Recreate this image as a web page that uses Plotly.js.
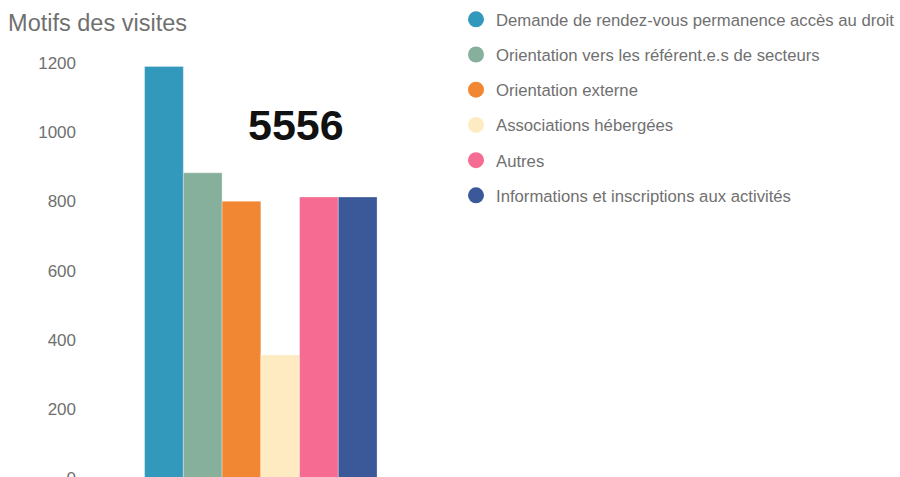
<!DOCTYPE html>
<html>
<head>
<meta charset="utf-8">
<script src="https://cdn.plot.ly/plotly-3.0.1.min.js"></script>
<style>
  html, body { margin: 0; padding: 0; overflow: hidden; background: #fff; }
  #motifs { width: 900px; height: 500px; }
</style>
</head>
<body>
<div id="motifs"></div>
<script>
var motifs = [
  "Demande de rendez-vous permanence accès au droit",
  "Orientation vers les référent.e.s de secteurs",
  "Orientation externe",
  "Associations hébergées",
  "Autres",
  "Informations et inscriptions aux activités"
];
var visites = [1191, 883, 801, 356, 813, 813];
var couleurs = ["#3399bc", "#86b09b", "#f28733", "#ffebc2", "#f56b91", "#3b5998"];
var total = "5556";
var yTicks = [0, 200, 400, 600, 800, 1000, 1200];

function graficar() {
  var data = [];
  // one bar per motif, all on the same category
  for (var i = 0; i < motifs.length; i++) {
    data.push({
      x: ["visites"],
      y: [visites[i]],
      name: motifs[i],
      type: 'bar',
      showlegend: false,
      hoverinfo: 'y+name',
      marker: { color: couleurs[i], line: { color: 'rgba(255,255,255,0.3)', width: 1 } }
    });
  }
  // round legend markers
  for (var j = 0; j < motifs.length; j++) {
    data.push({
      x: [null],
      y: [null],
      name: motifs[j],
      type: 'scatter',
      mode: 'markers',
      legendgroup: 'g' + j,
      marker: { color: couleurs[j], size: 16, symbol: 'circle' },
      hoverinfo: 'skip'
    });
  }

  var layout = {
    width: 900,
    height: 500,
    margin: { l: 85, r: 0, t: 46, b: 22 },
    paper_bgcolor: '#fff',
    plot_bgcolor: '#fff',
    font: { family: 'Liberation Sans, Arial, sans-serif', color: '#707070' },
    title: {
      text: 'Motifs des visites',
      font: { size: 23.5, color: '#707070' },
      xref: 'container', x: 0.009, xanchor: 'left',
      yref: 'container', y: 0.954, yanchor: 'middle'
    },
    barmode: 'group',
    bargap: 0.339,
    bargroupgap: 0,
    xaxis: {
      domain: [0, 0.432],
      showticklabels: false,
      showgrid: false,
      zeroline: false,
      showline: false,
      fixedrange: true
    },
    yaxis: {
      range: [0, 1250],
      tickvals: yTicks,
      ticks: '',
      ticklabelstandoff: 8,
      showgrid: false,
      zeroline: false,
      showline: false,
      tickfont: { size: 17, color: '#707070' },
      fixedrange: true
    },
    showlegend: true,
    legend: {
      x: 0.456, xanchor: 'left',
      y: 1.102, yanchor: 'top',
      traceorder: 'grouped',
      tracegroupgap: 10.5,
      font: { size: 16.7, color: '#707070' },
      bgcolor: 'rgba(0,0,0,0)'
    },
    annotations: [{
      text: '<b>' + total + '</b>',
      xref: 'paper', yref: 'paper',
      x: 0.259, y: 0.817,
      xanchor: 'center', yanchor: 'middle',
      showarrow: false,
      font: { size: 43, color: '#111' }
    }]
  };

  Plotly.newPlot('motifs', data, layout, { displayModeBar: false, staticPlot: true });
}

graficar();
</script>
</body>
</html>
